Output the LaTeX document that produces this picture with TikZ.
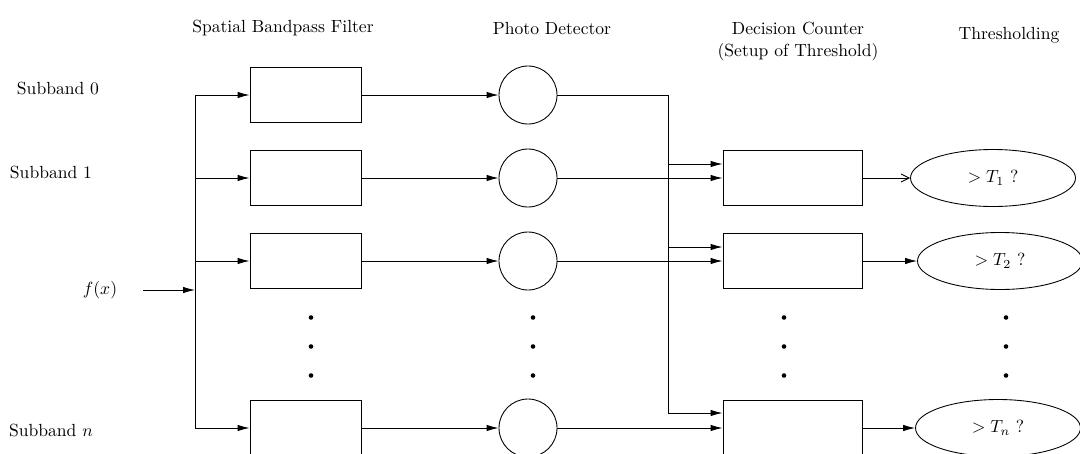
\documentclass[tikz,border=0pt]{standalone}
\usepackage{amsmath}
\usepackage{tikz}
\usetikzlibrary{arrows.meta,calc,positioning,shapes.geometric}
\tikzset{
  >={Latex[length=2.4mm,width=1.3mm]},
  flow/.style={->, line width=0.5pt},
  flowopen/.style={-{Straight Barb[length=1.6mm,width=1.6mm]}, line width=0.5pt},
  wire/.style={line width=0.5pt},
  filterbox/.style={draw, line width=0.5pt, minimum width=2.22cm, minimum height=1.1cm},
  detector/.style={draw, circle, line width=0.5pt, minimum size=1.16cm, inner sep=0pt},
  counterbox/.style={draw, line width=0.5pt, minimum width=2.78cm, minimum height=1.1cm},
  threshold/.style={draw, ellipse, line width=0.5pt, minimum width=3.3cm, minimum height=1.14cm, inner sep=0pt},
  headlabel/.style={align=center},
  vdot/.style={circle, fill, inner sep=0pt, minimum size=2.6pt}
}

\begin{document}
\begin{tikzpicture}
  \clip (0,0) rectangle (21.6,-9.06);
  % column heads
  \node[headlabel] (hfilt) at (5.66,-0.56) {Spatial Bandpass Filter};
  \node[headlabel] (hdet) at (11.04,-0.56) {Photo Detector};
  \node[headlabel] (hcnt) at (15.96,-0.83) {Decision Counter\\(Setup of Threshold)};
  \node[headlabel] (hthr) at (20.18,-0.7) {Thresholding};
  % subband labels
  \node (lab0) at (1.16,-1.76) {Subband 0};
  \node (lab1) at (1.02,-3.44) {Subband 1};
  \node (labn) at (1.02,-8.6) {Subband $n$};
  % input
  \node (fx) at (2.0,-5.8) {$f(x)$};
  \coordinate (split) at (3.9,-5.8);
  \coordinate (bustop) at (3.9,-1.9);
  \coordinate (busbot) at (3.9,-8.56);
  \draw[flow] ([xshift=0.4cm]fx.east) -- (split);
  \draw[wire] (bustop) -- (busbot);
  % filter and detector rows
  \foreach \r/\y in {0/-1.9,1/-3.56,2/-5.22,n/-8.56}{
    \node[filterbox] (filt\r) at (6.11,\y) {};
    \node[detector] (det\r) at (10.56,\y) {};
    \draw[flow] (filt\r.west -| split) -- (filt\r.west);
    \draw[flow] (filt\r.east) -- (det\r.west);
  }
  % counters and thresholds
  \foreach \r/\y/\c in {1/-3.56/19.86,2/-5.22/20.0,n/-8.56/19.96}{
    \node[counterbox] (cnt\r) at (15.85,\y) {};
    \node[threshold] (thr\r) at (\c,\y) {$>T_{\r}$ ?};
    \draw[flow] (det\r.east) -- (cnt\r.west);
  }
  \draw[flowopen] (cnt1.east) -- (thr1.west);
  \draw[flow] (cnt2.east) -- (thr2.west);
  \draw[flow] (cntn.east) -- (thrn.west);
  % subband 0 feeds every counter
  \coordinate (tap) at (13.36,-1.9);
  \draw[flow] (det0.east) -- (tap) |- ([yshift=0.3cm]cntn.west);
  \draw[flow] ([yshift=0.28cm]cnt1.west -| tap) -- ([yshift=0.28cm]cnt1.west);
  \draw[flow] ([yshift=0.28cm]cnt2.west -| tap) -- ([yshift=0.28cm]cnt2.west);
  % dots
  \foreach \x in {6.22,10.66,15.68,20.12}{
    \foreach \y in {-6.35,-6.93,-7.51}{
      \node[vdot] at (\x,\y) {};
    }
  }
\end{tikzpicture}
\end{document}
